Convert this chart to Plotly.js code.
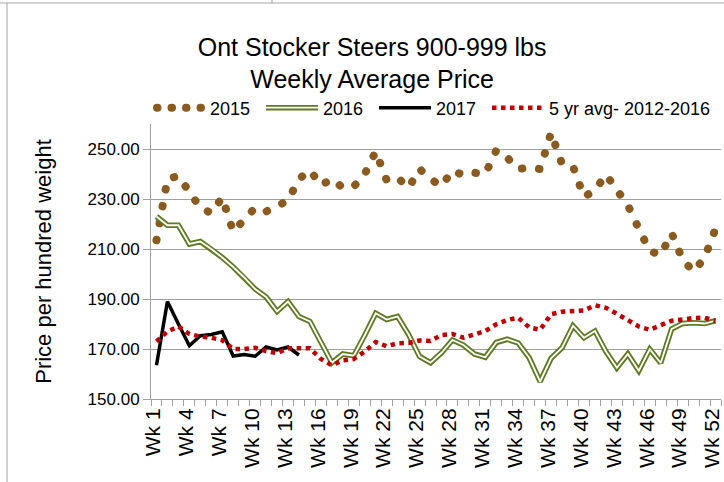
<!DOCTYPE html>
<html>
<head>
<meta charset="utf-8">
<script src="https://cdn.plot.ly/plotly-3.0.1.min.js"></script>
<style>
html, body { margin: 0; padding: 0; background: #ffffff; }
#chart { width: 724px; height: 482px; }
</style>
</head>
<body>
<div id="chart"></div>
<script>
// ---- data ----
const weeks = [1,2,3,4,5,6,7,8,9,10,11,12,13,14,15,16,17,18,19,20,21,22,23,24,25,26,
               27,28,29,30,31,32,33,34,35,36,37,38,39,40,41,42,43,44,45,46,47,48,49,50,51,52];
const tickWeeks = [1,4,7,10,13,16,19,22,25,28,31,34,37,40,43,46,49,52];
const tickLabels = ['Wk 1','Wk 4','Wk 7','Wk 10','Wk 13','Wk 16','Wk 19','Wk 22','Wk 25',
                    'Wk 28','Wk 31','Wk 34','Wk 37','Wk 40','Wk 43','Wk 46','Wk 49','Wk 52'];

const price2015 = [213.5, 238, 239.2, 232.5, 226.5, 224.4, 230.6, 217, 222, 226.5, 225, 227, 229.4,
                   238, 241.5, 235.5, 238, 234.5, 235, 240, 249, 237.5, 238.5, 234.5, 242, 238,
                   235.2, 241.4, 239.5, 240.5, 240, 249.5, 246.5, 242, 242.5, 242, 256.5, 244, 243,
                   230.8, 233.5, 239.8, 233.5, 227.5, 218.1, 209.2, 207.6, 216.3, 205.7, 201, 206.5, 218.1];

const price2016 = [223, 219.5, 219.5, 212, 213, 210, 206.6, 202.8, 198.6, 194, 190.8, 185, 189,
                   183, 181, 173, 164.5, 168, 167.3, 175.5, 184.3, 181.8, 183, 175.8, 167, 164.5,
                   168.5, 173.6, 171.6, 168, 166.7, 172.6, 173.9, 172.4, 166.5, 157, 166.3, 170.5, 179.3,
                   174.5, 177.2, 169, 162.5, 168, 161.3, 169.9, 164.4, 178, 180.2, 180.5, 180.2, 181.3];

const weeks2017 = [1,2,3,4,5,6,7,8,9,10,11,12,13,14];
const price2017 = [163.5, 189, 180, 171.3, 175.3, 175.8, 176.9, 167.2, 167.8, 167.1, 170.8, 169.6, 170.8, 167.6];

const avg5yr = [173, 177, 179, 176, 175, 174.5, 173.5, 170, 170, 170.5, 169.2, 168.3, 170.3, 170.3,
                170.3, 166, 163.5, 165.5, 166, 169, 172.8, 171.1, 172.3, 172.4, 173.4, 173.2, 175.6,
                176, 174.5, 175.8, 177.2, 179.9, 181.6, 182.5, 178.7, 177.7, 183.9, 184.9, 185.1,
                185.4, 187.5, 186.5, 184.1, 181.6, 179, 177.7, 179.7, 181.3, 181.8, 182.4, 182.5, 181.3];

const seriesNames = ['2015', '2016', '2017', '5 yr avg- 2012-2016'];

// ---- style ----
const BROWN = '#8B5A1F';
const GREEN = '#5E7B23';
const RED = '#C00000';
const GRID = '#A0A0A0';
const FONT = 'Liberation Sans, Arial, sans-serif';
const DOT2015 = '0.5px,16.7px';

const data = [
  { x: weeks, y: price2015, name: seriesNames[0], mode: 'lines', hoverinfo: 'skip',
    line: { color: BROWN, width: 8, dash: DOT2015 } },
  { x: weeks, y: price2016, name: seriesNames[1], mode: 'lines', hoverinfo: 'skip',
    line: { color: GREEN, width: 5.5 } },
  { x: weeks, y: price2016, name: seriesNames[1], mode: 'lines', hoverinfo: 'skip', showlegend: false,
    line: { color: '#ffffff', width: 1.8 } },
  { x: weeks2017, y: price2017, name: seriesNames[2], mode: 'lines', hoverinfo: 'skip',
    line: { color: '#000000', width: 3.5 } },
  { x: weeks, y: avg5yr, name: seriesNames[3], mode: 'lines', hoverinfo: 'skip', legendwidth: 170,
    line: { color: RED, width: 4.5, dash: 'dot' } }
];

const px2paperX = p => (p - 151) / 570;
const px2paperY = p => (399 - p) / 275;

const layout = {
  width: 724, height: 482,
  paper_bgcolor: '#ffffff', plot_bgcolor: '#ffffff',
  margin: { l: 151, r: 3, t: 124, b: 83, pad: 0 },
  font: { family: FONT, color: '#000000', size: 17 },
  title: {
    text: 'Ont Stocker Steers 900-999 lbs<br>Weekly Average Price',
    font: { family: FONT, size: 25, color: '#000000' },
    xref: 'container', x: 0.514, xanchor: 'center',
    yref: 'container', y: 0.884, yanchor: 'middle'
  },
  showlegend: true,
  legend: {
    orientation: 'h', x: px2paperX(148), xanchor: 'left', y: px2paperY(108), yanchor: 'middle',
    font: { family: FONT, size: 18, color: '#000000' },
    itemwidth: 52, entrywidth: 46, entrywidthmode: 'pixels',
    bgcolor: 'rgba(0,0,0,0)', borderwidth: 0, traceorder: 'normal'
  },
  xaxis: {
    type: 'linear', range: [0.5, 52.5], fixedrange: true,
    tickmode: 'array', tickvals: tickWeeks, ticktext: tickLabels, tickangle: -90,
    ticks: '', showgrid: false, zeroline: false, ticklabeloverflow: 'allow', ticklabelshift: -3,
    showline: true, linecolor: GRID, linewidth: 1,
    tickfont: { family: FONT, size: 21, color: '#000000' },
    minor: { tickmode: 'linear', tick0: 0.5, dtick: 1, ticks: 'outside', ticklen: 6,
             tickcolor: GRID, tickwidth: 1, showgrid: false }
  },
  yaxis: {
    range: [150, 260], fixedrange: true,
    tickmode: 'linear', tick0: 150, dtick: 20, tickformat: '.2f',
    ticks: 'outside', ticklen: 7, tickcolor: GRID, tickwidth: 1,
    showgrid: true, gridcolor: GRID, gridwidth: 1,
    showline: true, linecolor: GRID, linewidth: 1, zeroline: false,
    tickfont: { family: FONT, size: 17, color: '#000000' },
    title: { text: 'Price per hundred weight', font: { family: FONT, size: 22, color: '#000000' }, standoff: 29 }
  },
  shapes: [
    { type: 'line', xref: 'paper', yref: 'paper', x0: px2paperX(7), x1: px2paperX(7),
      y0: px2paperY(482), y1: px2paperY(3), line: { color: '#A6A6A6', width: 1 } },
    { type: 'line', xref: 'paper', yref: 'paper', x0: px2paperX(0), x1: px2paperX(724),
      y0: px2paperY(3), y1: px2paperY(3), line: { color: '#A6A6A6', width: 1 } },
    { type: 'line', xref: 'paper', yref: 'paper', x0: px2paperX(272), x1: px2paperX(272),
      y0: px2paperY(0), y1: px2paperY(3), line: { color: '#A6A6A6', width: 1 } }
  ]
};

Plotly.newPlot('chart', data, layout, { displayModeBar: false, responsive: false }).then(function (gd) {
  // round dots for the 2015 series
  const traces = gd.querySelectorAll('.scatterlayer .trace');
  if (traces[0]) {
    const p = traces[0].querySelector('path.js-line');
    if (p) p.style.strokeLinecap = 'round';
  }
  // legend symbols: same line styles as the plotted series
  gd.querySelectorAll('.legend .traces').forEach(function (t) {
    const txtEl = t.querySelector('.legendtext');
    const line = t.querySelector('path.js-line');
    if (!txtEl || !line) return;
    const txt = txtEl.textContent;
    if (txt === seriesNames[0]) {
      line.style.strokeDasharray = '0.5px,14px';
      line.style.strokeDashoffset = '-4px';
      line.style.strokeWidth = '8px';
      line.style.strokeLinecap = 'round';
    } else if (txt === seriesNames[1]) {
      line.style.strokeWidth = '5.5px';
      const c = line.cloneNode(true);
      c.style.stroke = '#ffffff';
      c.style.strokeWidth = '1.8px';
      line.parentNode.appendChild(c);
    } else if (txt === seriesNames[2]) {
      line.style.strokeWidth = '3.5px';
    } else if (txt === seriesNames[3]) {
      line.style.strokeWidth = '4.5px';
      line.style.strokeDasharray = '4.5px,4.5px';
    }
  });
});
</script>
</body>
</html>
